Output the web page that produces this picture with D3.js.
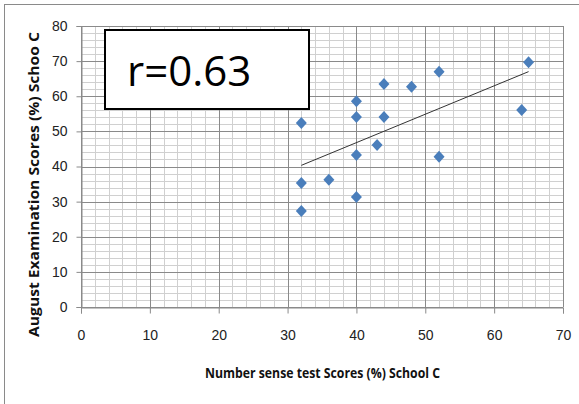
<!DOCTYPE html>
<meta charset="utf-8">
<style>
body { margin: 0; background: #fff; }
svg { display: block; font-family: "Open Sans", "Liberation Sans", sans-serif; }
.minor { stroke: #d0d0d0; stroke-width: 1; }
.major { stroke: #8a8a8a; stroke-width: 1; }
.tick text { font-size: 14px; fill: #222; }
.axis-title { font-family: "Open Sans", "Liberation Sans", sans-serif; font-weight: bold; font-size: 14px; fill: #111; }
</style>
<svg width="579" height="404"></svg>
<script src="https://d3js.org/d3.v7.min.js"></script>
<script>

// number sense scores (%) and August exam scores (%), School C
var numberSense = [32, 32, 32, 36, 40, 40, 40, 40, 44, 44, 43, 48, 52, 52, 64, 65];
var augustExam = [52.4, 35.3, 27.3, 36.2, 58.6, 54.1, 43.3, 31.3, 63.5, 54.1, 46.1, 62.7, 67.0, 42.8, 56.1, 69.7];
var xTicks = [0, 10, 20, 30, 40, 50, 60, 70];
var yTicks = [0, 10, 20, 30, 40, 50, 60, 70, 80];
var rLabel = "r=0.63";

var svg = d3.select("svg");

var x = d3.scaleLinear().domain([0, 70]).range([81, 563]);
var y = d3.scaleLinear().domain([0, 80]).range([307, 26]);

// outer chart border
svg.append("rect")
    .attr("x", 4.5).attr("y", 4.5)
    .attr("width", 620).attr("height", 620)
    .attr("fill", "none")
    .attr("stroke", "#8a8a8a");

var grid = svg.append("g");

grid.selectAll(".vminor")
    .data(d3.range(0, 71, 2).filter(function(d) { return d % 10 !== 0; }))
  .enter().append("line")
    .attr("class", "minor")
    .attr("x1", function(d) { return Math.round(x(d)) + 0.5; })
    .attr("x2", function(d) { return Math.round(x(d)) + 0.5; })
    .attr("y1", y(80)).attr("y2", y(0));

grid.selectAll(".hminor")
    .data(d3.range(0, 81, 2).filter(function(d) { return d % 10 !== 0; }))
  .enter().append("line")
    .attr("class", "minor")
    .attr("y1", function(d) { return Math.round(y(d)) + 0.5; })
    .attr("y2", function(d) { return Math.round(y(d)) + 0.5; })
    .attr("x1", x(0)).attr("x2", x(70));

grid.selectAll(".vmajor")
    .data(xTicks)
  .enter().append("line")
    .attr("class", "major")
    .attr("x1", function(d) { return Math.round(x(d)) + 0.5; })
    .attr("x2", function(d) { return Math.round(x(d)) + 0.5; })
    .attr("y1", y(80)).attr("y2", y(0));

grid.selectAll(".hmajor")
    .data(yTicks)
  .enter().append("line")
    .attr("class", "major")
    .attr("y1", function(d) { return Math.round(y(d)) + 0.5; })
    .attr("y2", function(d) { return Math.round(y(d)) + 0.5; })
    .attr("x1", x(0)).attr("x2", x(70));

var xAxis = svg.append("g")
    .attr("transform", "translate(0," + (Math.round(y(0)) + 0.5) + ")")
    .call(d3.axisBottom(x).tickValues(xTicks).tickSize(6).tickPadding(17));
var yAxis = svg.append("g")
    .attr("transform", "translate(" + (Math.round(x(0)) + 0.5) + ",0)")
    .call(d3.axisLeft(y).tickValues(yTicks).tickSize(5).tickPadding(9));
[xAxis, yAxis].forEach(function(a) {
  a.select(".domain").attr("stroke", "#8a8a8a");
  a.selectAll(".tick line").attr("stroke", "#8a8a8a");
});

// least squares trend line
var mx = d3.mean(numberSense), my = d3.mean(augustExam);
var sxy = d3.sum(numberSense, function(d, i) { return (d - mx) * (augustExam[i] - my); });
var sxx = d3.sum(numberSense, function(d) { return (d - mx) * (d - mx); });
var slope = sxy / sxx, icpt = my - slope * mx;
var xr = d3.extent(numberSense);

svg.append("line")
    .attr("x1", x(xr[0])).attr("y1", y(icpt + slope * xr[0]))
    .attr("x2", x(xr[1])).attr("y2", y(icpt + slope * xr[1]))
    .attr("stroke", "#333")
    .attr("stroke-width", 1);

svg.selectAll(".pt")
    .data(numberSense)
  .enter().append("path")
    .attr("class", "pt")
    .attr("d", "M0,-6L5.5,0L0,6L-5.5,0Z")
    .attr("transform", function(d, i) { return "translate(" + x(d) + "," + y(augustExam[i]) + ")"; })
    .attr("fill", "#4A7EBB");

// r label box
svg.append("rect")
    .attr("x", 105).attr("y", 30)
    .attr("width", 204).attr("height", 79)
    .attr("fill", "#fff")
    .attr("stroke", "#000")
    .attr("stroke-width", 2);
svg.append("text")
    .attr("x", 127).attr("y", 86)
    .attr("font-size", "42px")
    .attr("fill", "#000")
    .text(rLabel);

svg.append("text")
    .attr("class", "axis-title")
    .attr("x", 205).attr("y", 378)
    .attr("textLength", 235)
    .attr("lengthAdjust", "spacingAndGlyphs")
    .text("Number sense test Scores (%) School C");

svg.append("text")
    .attr("class", "axis-title")
    .attr("transform", "translate(39,337) rotate(-90)")
    .attr("textLength", 305)
    .attr("lengthAdjust", "spacingAndGlyphs")
    .text("August Examination Scores (%) Schoo C");

</script>
